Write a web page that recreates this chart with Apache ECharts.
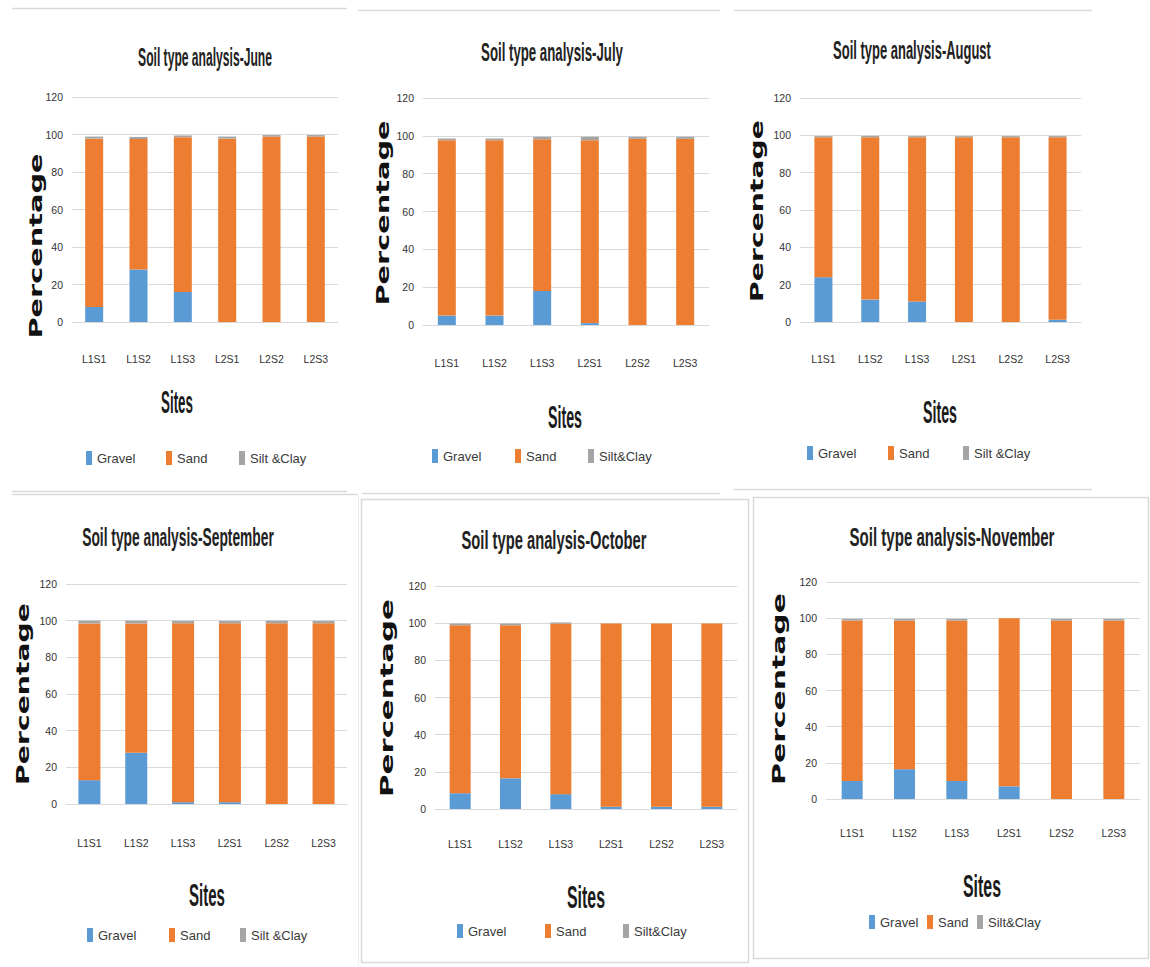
<!DOCTYPE html>
<html>
<head>
<meta charset="utf-8">
<script src="https://cdn.jsdelivr.net/npm/echarts@6/dist/echarts.min.js"></script>
<style>
html,body{margin:0;padding:0;background:#fff;}
#main{width:1150px;height:967px;}
</style>
</head>
<body>
<div id="main"></div>
<script>
// ---------------- DATA ----------------
const sites = ['L1S1', 'L1S2', 'L1S3', 'L2S1', 'L2S2', 'L2S3'];
const months = ['June', 'July', 'August', 'September', 'October', 'November'];
const yTicks = [0, 20, 40, 60, 80, 100, 120];
const siltNames = ['Silt &Clay', 'Silt&Clay', 'Silt &Clay', 'Silt &Clay', 'Silt&Clay', 'Silt&Clay'];

const gravelJune = [8, 28, 16, 0, 0, 0];
const sandJune   = [89.8, 69.6, 82.6, 97.8, 98.9, 98.9];
const siltJune   = [1.1, 1.1, 0.9, 1.1, 0.8, 0.8];

const gravelJuly = [5, 5, 18, 1, 0, 0];
const sandJuly   = [92.7, 92.7, 80.2, 96.7, 98.4, 98.4];
const siltJuly   = [0.9, 0.9, 1.3, 1.8, 1.1, 1.1];

const gravelAugust = [24, 12, 11, 0, 0, 1.2];
const sandAugust   = [75, 87, 88, 99, 99, 97.8];
const siltAugust   = [0.6, 0.7, 0.6, 0.6, 0.6, 0.6];

const gravelSeptember = [13, 28, 1, 1, 0, 0];
const sandSeptember   = [85.5, 70.5, 97.6, 97.6, 98.6, 98.6];
const siltSeptember   = [1.5, 1.5, 1.3, 1.3, 1.4, 1.3];

const gravelOctober = [8.5, 16.5, 8, 1.2, 1.2, 1.2];
const sandOctober   = [90.4, 82.4, 91.8, 98.6, 98.6, 98.6];
const siltOctober   = [0.9, 0.9, 0.6, 0, 0, 0];

const gravelNovember = [10, 16.5, 10, 7, 0, 0];
const sandNovember   = [88.7, 82.2, 88.7, 93, 98.7, 98.7];
const siltNovember   = [0.9, 0.9, 0.9, 0, 0.9, 0.9];

const gravel = [gravelJune, gravelJuly, gravelAugust, gravelSeptember, gravelOctober, gravelNovember];
const sand   = [sandJune, sandJuly, sandAugust, sandSeptember, sandOctober, sandNovember];
const silt   = [siltJune, siltJuly, siltAugust, siltSeptember, siltOctober, siltNovember];

// ---------------- LAYOUT / STYLE ----------------
const BLUE = '#5B9BD5', ORANGE = '#ED7D31', GRAY = '#A5A5A5', GRID = '#D9D9D9';
const FONT = '"Liberation Sans",Arial,sans-serif';
const layout = [
  {grid:{left:72, top:97, width:266, height:225}, xm:31, bw:18, title:[205,57,134], pct:[36,246,185], sites:[177,402,32], leg:[459,86,166,239]},
  {grid:{left:423, top:98, width:286, height:227}, xm:32, bw:18, title:[552,52,142], pct:[383,213,185], sites:[565,417,34], leg:[457,432,515,588]},
  {grid:{left:800, top:98, width:281, height:224}, xm:31, bw:18, title:[912,50,158], pct:[757,211,182], sites:[940,412,34], leg:[454,807,888,963]},
  {grid:{left:66, top:584, width:281, height:220}, xm:33, bw:22, title:[178,537,192], pct:[23,694,182], sites:[207,895,36], leg:[936,87,169,240]},
  {grid:{left:435, top:586, width:302, height:223}, xm:29, bw:21, title:[554,540,185], pct:[387,698,198], sites:[586,897,38], leg:[932,457,545,623]},
  {grid:{left:826, top:582, width:314, height:217}, xm:28, bw:21, title:[952,537,205], pct:[779,689,192], sites:[982,886,38], leg:[923,869,927,977]}
];

const mctx = document.createElement('canvas').getContext('2d');
function textWidth(text, weight, size, family) {
  mctx.font = weight + ' ' + size + 'px ' + family;
  return mctx.measureText(text).width;
}

const grids = [], xAxes = [], yAxes = [], series = [], legends = [], graphics = [];

months.forEach((m, i) => {
  const L = layout[i];
  grids.push(Object.assign({containLabel:false}, L.grid));
  xAxes.push({
    type:'category', gridIndex:i, data:sites,
    axisTick:{show:false},
    axisLine:{lineStyle:{color:GRID, width:1}},
    axisLabel:{margin:L.xm, fontSize:10.5, color:'#333', fontFamily:FONT, interval:0}
  });
  yAxes.push({
    type:'value', gridIndex:i,
    min:yTicks[0], max:yTicks[yTicks.length-1], interval:yTicks[1]-yTicks[0],
    axisLine:{show:false}, axisTick:{show:false},
    axisLabel:{margin:9, fontSize:10.5, color:'#333', fontFamily:FONT},
    splitLine:{lineStyle:{color:GRID, width:1}}
  });
  const parts = [['Gravel', gravel[i], BLUE], ['Sand', sand[i], ORANGE], [siltNames[i], silt[i], GRAY]];
  parts.forEach(p => {
    series.push({
      type:'bar', name:p[0], xAxisIndex:i, yAxisIndex:i, stack:'s'+i,
      barWidth:L.bw, data:p[1], itemStyle:{color:p[2]}, emphasis:{disabled:true}
    });
  });
  // legends, one item each
  const names = ['Gravel', 'Sand', siltNames[i]];
  names.forEach((n, k) => {
    legends.push({
      data:[n], left:L.leg[k+1], top:L.leg[0]-8, icon:'rect',
      itemWidth:6, itemHeight:14, itemGap:0, padding:0, selectedMode:false,
      textStyle:{fontSize:13, color:'#3a3a3a', fontFamily:FONT}
    });
  });
  // title
  const tText = 'Soil type analysis-' + m;
  const tw = textWidth(tText, 'bold', 26, '"Liberation Sans"');
  graphics.push({
    type:'text', x:L.title[0], y:L.title[1], scaleX:L.title[2]/tw, silent:true,
    style:{text:tText, fontSize:26, fontWeight:'bold', fontFamily:'"Liberation Sans"', fill:'#222',
           align:'center', verticalAlign:'middle', textAlign:'center', textVerticalAlign:'middle'}
  });
  // y axis name
  const pw = textWidth('Percentage', 'bold', 17, '"DejaVu Sans"');
  graphics.push({
    type:'text', x:L.pct[0], y:L.pct[1], rotation:Math.PI/2, scaleX:L.pct[2]/pw, silent:true,
    style:{text:'Percentage', fontSize:17, fontWeight:'bold', fontFamily:'"DejaVu Sans"', fill:'#111',
           align:'center', verticalAlign:'middle', textAlign:'center', textVerticalAlign:'middle'}
  });
  // x axis name
  const sw = textWidth('Sites', 'bold', 31, '"Liberation Sans"');
  graphics.push({
    type:'text', x:L.sites[0], y:L.sites[1], scaleX:L.sites[2]/sw, silent:true,
    style:{text:'Sites', fontSize:31, fontWeight:'bold', fontFamily:'"Liberation Sans"', fill:'#1a1a1a',
           align:'center', verticalAlign:'middle', textAlign:'center', textVerticalAlign:'middle'}
  });
});

// panel frames / separator lines
function hline(x1, x2, y) {
  return {type:'line', silent:true, shape:{x1:x1, y1:y, x2:x2, y2:y}, style:{stroke:GRID, lineWidth:1.5}};
}
graphics.push(hline(12, 347, 8.5));
graphics.push(hline(358, 720, 10.5));
graphics.push(hline(734, 1092, 10.5));
graphics.push(hline(12, 347, 491.5));
graphics.push(hline(12, 358, 494.5));
graphics.push(hline(362, 720, 493.5));
graphics.push(hline(734, 1092, 489.5));
graphics.push({type:'line', silent:true, shape:{x1:358.5, y1:495, x2:358.5, y2:965}, style:{stroke:'#ECECEC', lineWidth:1}});
graphics.push({type:'rect', silent:true, shape:{x:361.5, y:499.5, width:387, height:463}, style:{fill:'none', stroke:GRID, lineWidth:1.5}});
graphics.push({type:'rect', silent:true, shape:{x:753.5, y:497.5, width:395, height:461}, style:{fill:'none', stroke:GRID, lineWidth:1.5}});

const chart = echarts.init(document.getElementById('main'), null, {renderer:'svg', width:1150, height:967});
chart.setOption({
  backgroundColor:'#ffffff',
  animation:false,
  grid:grids, xAxis:xAxes, yAxis:yAxes, series:series, legend:legends,
  graphic:{elements:graphics}
});
</script>
</body>
</html>
